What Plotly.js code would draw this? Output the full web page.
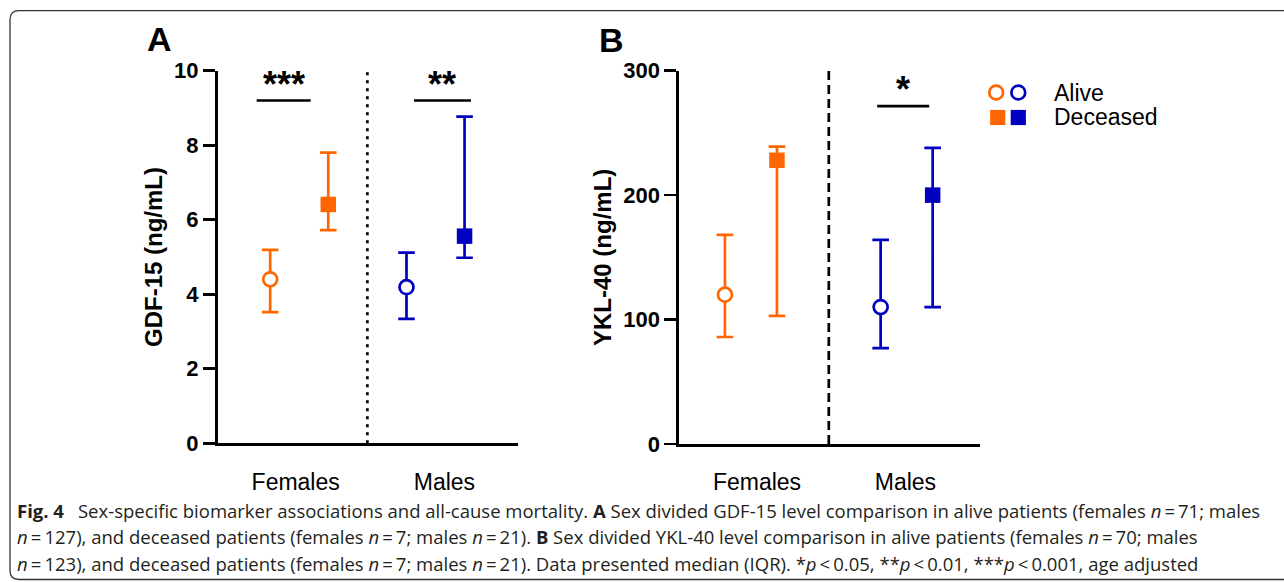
<!DOCTYPE html>
<html>
<head>
<meta charset="utf-8">
<script src="https://cdn.plot.ly/plotly-3.0.1.min.js"></script>
<style>html,body{margin:0;padding:0;background:#fff;}#chart{width:1284px;height:582px;}</style>
</head>
<body>
<div id="chart"></div>
<script>
// ---------------- data ----------------
const categories = ['Females', 'Males'];
const groups = ['Alive', 'Deceased'];
const categoryColors = ['#FF6600', '#0000BF'];

// Panel A: GDF-15 (ng/mL), median and IQR
const gdfAliveMedian = [4.40, 4.19];
const gdfAliveQ1 = [3.52, 3.34];
const gdfAliveQ3 = [5.19, 5.12];
const gdfDeceasedMedian = [6.41, 5.56];
const gdfDeceasedQ1 = [5.72, 4.98];
const gdfDeceasedQ3 = [7.80, 8.77];

// Panel B: YKL-40 (ng/mL), median and IQR
const yklAliveMedian = [120, 110];
const yklAliveQ1 = [86, 77];
const yklAliveQ3 = [168, 164];
const yklDeceasedMedian = [228, 200];
const yklDeceasedQ1 = [103, 110];
const yklDeceasedQ3 = [239, 238];

const gdfTicks = [0, 2, 4, 6, 8, 10];
const yklTicks = [0, 100, 200, 300];

// significance labels (category index, label, bar level)
const gdfSig = [{cat: 0, label: '***', level: 9.2}, {cat: 1, label: '**', level: 9.2}];
const yklSig = [{cat: 1, label: '*', level: 271.6}];

// ---------------- layout helpers ----------------
const W = 1284, H = 582;
const px = x => x / W;
const py = y => 1 - y / H;

const FONT = 'Liberation Sans, Arial, Helvetica, sans-serif';
const BLACK = '#000000';
const LW = 2.7;

const panels = [
  {
    xa: 'x', ya: 'y', xKey: 'xaxis', yKey: 'yaxis',
    xDomain: [px(217.7), px(518)], yDomain: [py(443.3), py(70.7)],
    xRange: [-0.598, 1.605], yRange: [0, 10], offset: 0.213,
    tickPos: [-0.026, 1.065], yTicks: gdfTicks, title: 'GDF-15 (ng/mL)',
    alive: [gdfAliveMedian, gdfAliveQ1, gdfAliveQ3],
    deceased: [gdfDeceasedMedian, gdfDeceasedQ1, gdfDeceasedQ3],
    sig: gdfSig, sigCenter: [-0.114, 1.051], sigHalf: [0.198, 0.209],
    divider: '3px,5px', letter: 'A', letterPos: [145, 39]
  },
  {
    xa: 'x2', ya: 'y2', xKey: 'xaxis2', yKey: 'yaxis2',
    xDomain: [px(679), px(980)], yDomain: [py(444), py(70.7)],
    xRange: [-0.462, 1.471], yRange: [0, 300], offset: 0.167,
    tickPos: [0.039, 0.992], yTicks: yklTicks, title: 'YKL-40 (ng/mL)',
    alive: [yklAliveMedian, yklAliveQ1, yklAliveQ3],
    deceased: [yklDeceasedMedian, yklDeceasedQ1, yklDeceasedQ3],
    sig: yklSig, sigCenter: [0.978], sigHalf: [0.167],
    divider: '9px,5px', letter: 'B', letterPos: [597, 40.5]
  }
];

const traces = [];
const shapes = [];
const annotations = [];
const layout = {
  width: W, height: H,
  margin: {l: 0, r: 0, t: 0, b: 0, pad: 0},
  paper_bgcolor: '#ffffff', plot_bgcolor: '#ffffff',
  showlegend: false,
  font: {family: FONT, color: BLACK}
};

panels.forEach(p => {
  groups.forEach((g, gi) => {
    const [med, q1, q3] = gi === 0 ? p.alive : p.deceased;
    categories.forEach((c, ci) => {
      const col = categoryColors[ci];
      traces.push({
        type: 'scatter', mode: 'markers',
        xaxis: p.xa, yaxis: p.ya,
        name: c + ' ' + g,
        x: [ci + (gi === 0 ? -p.offset : p.offset)],
        y: [med[ci]],
        error_y: {
          type: 'data', symmetric: false,
          array: [q3[ci] - med[ci]], arrayminus: [med[ci] - q1[ci]],
          color: col, thickness: LW, width: 8.3
        },
        marker: gi === 0
          ? {symbol: 'circle', size: 14, color: '#ffffff', line: {color: col, width: LW}}
          : {symbol: 'square', size: 15.5, color: col, line: {width: 0}},
        cliponaxis: false,
        hoverinfo: 'skip'
      });
    });
  });

  layout[p.xKey] = {
    domain: p.xDomain, range: p.xRange, anchor: p.ya,
    showline: true, linewidth: LW, linecolor: BLACK,
    showgrid: false, zeroline: false, ticks: '',
    tickmode: 'array', tickvals: p.tickPos, ticktext: categories,
    tickfont: {family: FONT, size: 23, color: BLACK},
    ticklabelstandoff: 16, fixedrange: true
  };
  layout[p.yKey] = {
    domain: p.yDomain, range: p.yRange, anchor: p.xa,
    showline: true, linewidth: LW, linecolor: BLACK,
    showgrid: false, zeroline: false,
    ticks: 'outside', ticklen: 12, tickwidth: LW, tickcolor: BLACK,
    tickmode: 'array', tickvals: p.yTicks,
    tickfont: {family: FONT, size: 22, color: BLACK, weight: 'bold'},
    title: {text: p.title, font: {family: FONT, size: 24, color: BLACK, weight: 'bold'}, standoff: 5},
    fixedrange: true
  };

  // divider between sexes
  shapes.push({
    type: 'line', xref: p.xa, yref: p.ya,
    x0: 0.5, x1: 0.5, y0: p.yRange[0], y1: p.yRange[1],
    line: {color: BLACK, width: LW, dash: p.divider}
  });

  // significance bars and stars
  p.sig.forEach((s, si) => {
    const center = p.sigCenter[si];
    shapes.push({
      type: 'line', xref: p.xa, yref: p.ya,
      x0: center - p.sigHalf[si], x1: center + p.sigHalf[si],
      y0: s.level, y1: s.level,
      line: {color: BLACK, width: LW}
    });
    annotations.push({
      xref: p.xa, yref: p.ya, x: center, y: s.level,
      xanchor: 'center', yanchor: 'bottom', yshift: -6,
      text: s.label, showarrow: false,
      font: {family: FONT, size: 36, color: BLACK, weight: 'bold'}
    });
  });

  // panel letter
  annotations.push({
    xref: 'paper', yref: 'paper', x: px(p.letterPos[0]), y: py(p.letterPos[1]),
    xanchor: 'left', yanchor: 'middle', text: '<b>' + p.letter + '</b>', showarrow: false,
    font: {family: FONT, size: 34, color: BLACK, weight: 'bold'}
  });
});

// ---------------- legend (drawn) ----------------
const legendCircleY = 92.5, legendSquareY = 117.5;
const legendX = [996.2, 1018.3];
legendX.forEach((lx, i) => {
  const r = 6.9;
  shapes.push({
    type: 'circle', xref: 'paper', yref: 'paper',
    x0: px(lx - r), x1: px(lx + r), y0: py(legendCircleY + r), y1: py(legendCircleY - r),
    line: {color: categoryColors[i], width: LW}, fillcolor: '#ffffff'
  });
  const h = 7.6;
  shapes.push({
    type: 'rect', xref: 'paper', yref: 'paper',
    x0: px(lx - h + (i === 0 ? 1.5 : 0)), x1: px(lx + h + (i === 0 ? 1.5 : 0)),
    y0: py(legendSquareY + h), y1: py(legendSquareY - h),
    line: {width: 0}, fillcolor: categoryColors[i]
  });
});
groups.forEach((g, gi) => {
  annotations.push({
    xref: 'paper', yref: 'paper', x: px(1052), y: py(gi === 0 ? 92.5 : 117.5),
    xanchor: 'left', yanchor: 'middle', text: g, showarrow: false,
    font: {family: FONT, size: 23, color: BLACK}
  });
});

// ---------------- caption ----------------
const T = '\u2009';
const captionLines = [
  '<b>Fig. 4</b>\u2002 Sex-specific biomarker associations and all-cause mortality. <b>A</b> Sex divided GDF-15 level comparison in alive patients (females <i>n</i>' + T + '=' + T + '71; males',
  '<i>n</i>' + T + '=' + T + '127), and deceased patients (females <i>n</i>' + T + '=' + T + '7; males <i>n</i>' + T + '=' + T + '21). <b>B</b> Sex divided YKL-40 level comparison in alive patients (females <i>n</i>' + T + '=' + T + '70; males',
  '<i>n</i>' + T + '=' + T + '123), and deceased patients (females <i>n</i>' + T + '=' + T + '7; males <i>n</i>' + T + '=' + T + '21). Data presented median (IQR). *<i>p</i>' + T + '&lt;' + T + '0.05, **<i>p</i>' + T + '&lt;' + T + '0.01, ***<i>p</i>' + T + '&lt;' + T + '0.001, age adjusted'
];
const captionY = [510, 536.7, 563];
captionLines.forEach((t, i) => {
  annotations.push({
    xref: 'paper', yref: 'paper', x: px(15), y: py(captionY[i]),
    xanchor: 'left', yanchor: 'middle', text: t, showarrow: false,
    font: {family: 'Open Sans, Noto Sans, sans-serif', size: 18.5, color: '#231f20'}
  });
});

// ---------------- border ----------------
(function () {
  const x0 = 10, y0 = 10.7, x1 = 1300, y1 = 579.5, r = 9;
  const P = (x, y) => px(x) + ',' + py(y);
  const path = 'M ' + P(x0 + r, y0) + ' L ' + P(x1, y0) + ' L ' + P(x1, y1) +
    ' L ' + P(x0 + r, y1) + ' Q ' + P(x0, y1) + ' ' + P(x0, y1 - r) +
    ' L ' + P(x0, y0 + r) + ' Q ' + P(x0, y0) + ' ' + P(x0 + r, y0) + ' Z';
  shapes.push({type: 'path', xref: 'paper', yref: 'paper', path: path,
    line: {color: '#333333', width: 1.3}, fillcolor: 'rgba(0,0,0,0)', layer: 'below'});
})();

layout.shapes = shapes;
layout.annotations = annotations;

Plotly.newPlot('chart', traces, layout, {staticPlot: true, displayModeBar: false});
</script>
</body>
</html>
